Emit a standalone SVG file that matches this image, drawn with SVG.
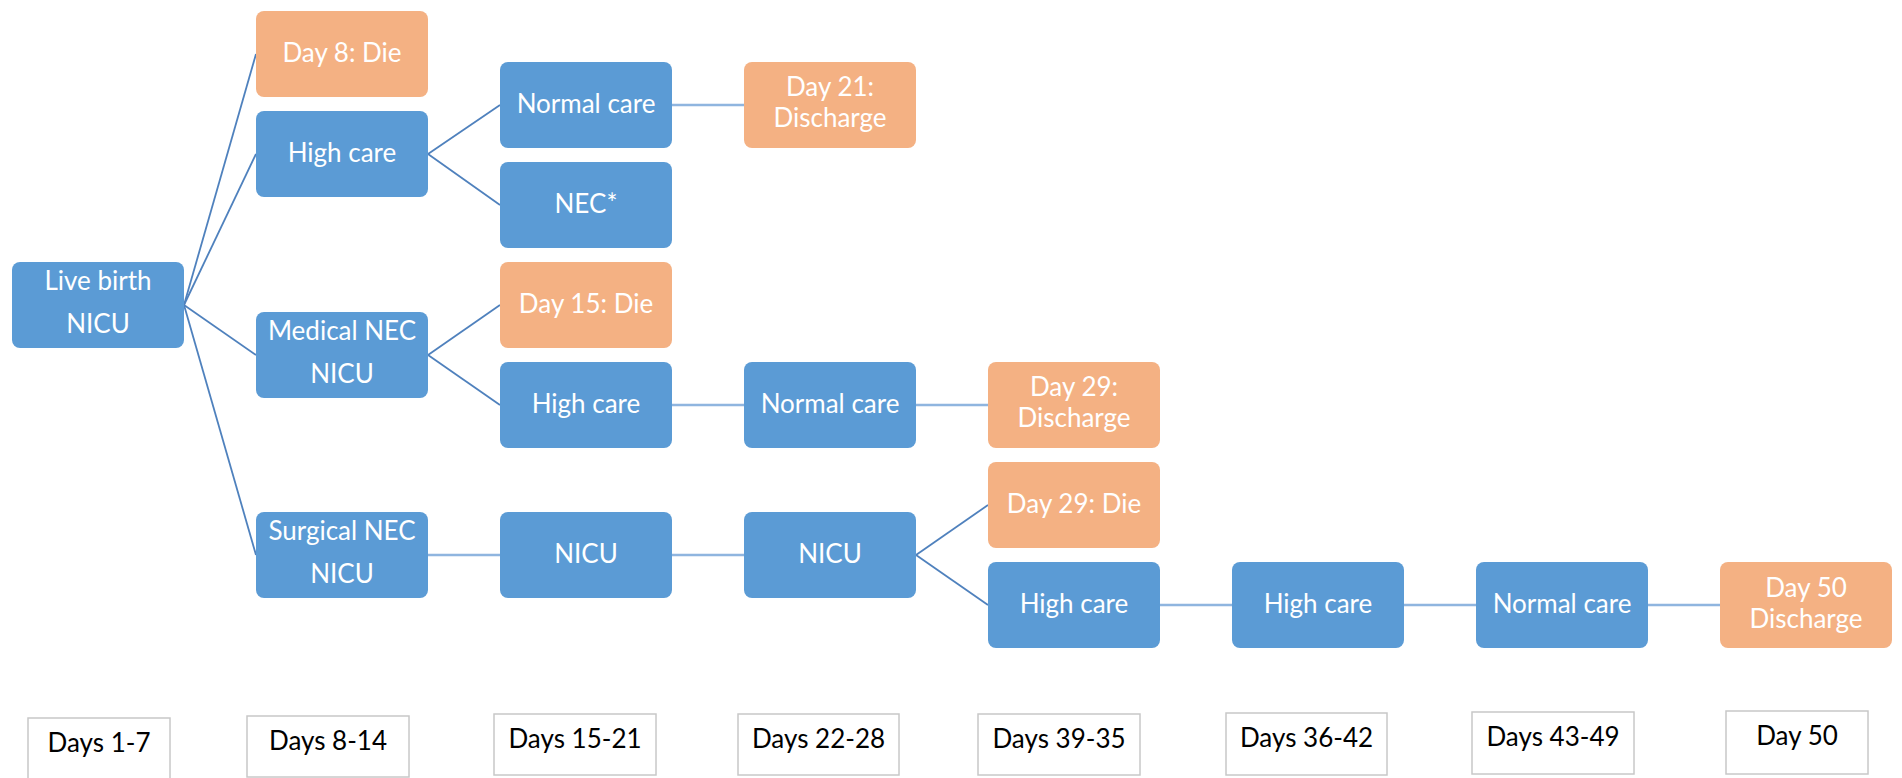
<svg xmlns="http://www.w3.org/2000/svg" width="1902" height="778" viewBox="0 0 1902 778">
<style>
  .b { fill: #5b9bd5; }
  .o { fill: #f4b183; }
  .t { font-family: Lato, "Open Sans", sans-serif; font-size: 26px; fill: #ffffff; text-anchor: middle; }
  .f { font-family: Lato, "Open Sans", sans-serif; font-size: 26px; fill: #000000; text-anchor: middle; }
  .fb { fill: #ffffff; stroke: #c8c8c8; stroke-width: 1.5; }
  .d { stroke: #4f81bd; stroke-width: 1.8; fill: none; }
  .h { stroke: #8fb5df; stroke-width: 2.6; fill: none; }
</style>
<rect width="1902" height="778" fill="#ffffff"/>
<g id="connectors">
  <line class="d" x1="184" y1="305" x2="256" y2="54"/>
  <line class="d" x1="184" y1="305" x2="256" y2="154"/>
  <line class="d" x1="184" y1="305" x2="256" y2="355"/>
  <line class="d" x1="184" y1="305" x2="256" y2="555"/>
  <line class="d" x1="428" y1="154" x2="500" y2="105"/>
  <line class="d" x1="428" y1="154" x2="500" y2="205"/>
  <line class="h" x1="672" y1="105" x2="744" y2="105"/>
  <line class="d" x1="428" y1="355" x2="500" y2="305"/>
  <line class="d" x1="428" y1="355" x2="500" y2="405"/>
  <line class="h" x1="672" y1="405" x2="744" y2="405"/>
  <line class="h" x1="916" y1="405" x2="988" y2="405"/>
  <line class="h" x1="428" y1="555" x2="500" y2="555"/>
  <line class="h" x1="672" y1="555" x2="744" y2="555"/>
  <line class="d" x1="916" y1="555" x2="988" y2="505"/>
  <line class="d" x1="916" y1="555" x2="988" y2="605"/>
  <line class="h" x1="1160" y1="605" x2="1232" y2="605"/>
  <line class="h" x1="1404" y1="605" x2="1476" y2="605"/>
  <line class="h" x1="1648" y1="605" x2="1720" y2="605"/>
</g>
<g id="live-birth"><rect class="b" x="12" y="262" width="172" height="86" rx="8"/><text class="t" x="98" y="290">Live birth</text><text class="t" x="98" y="333">NICU</text></g>
<g id="day8-die"><rect class="o" x="256" y="11" width="172" height="86" rx="8"/><text class="t" x="342" y="62">Day 8: Die</text></g>
<g id="high-care-1"><rect class="b" x="256" y="111" width="172" height="86" rx="8"/><text class="t" x="342" y="162">High care</text></g>
<g id="medical-nec"><rect class="b" x="256" y="312" width="172" height="86" rx="8"/><text class="t" x="342" y="340">Medical NEC</text><text class="t" x="342" y="383">NICU</text></g>
<g id="surgical-nec"><rect class="b" x="256" y="512" width="172" height="86" rx="8"/><text class="t" x="342" y="540">Surgical NEC</text><text class="t" x="342" y="583">NICU</text></g>
<g id="normal-care-1"><rect class="b" x="500" y="62" width="172" height="86" rx="8"/><text class="t" x="586" y="113">Normal care</text></g>
<g id="nec-star"><rect class="b" x="500" y="162" width="172" height="86" rx="8"/><text class="t" x="586" y="213">NEC*</text></g>
<g id="day15-die"><rect class="o" x="500" y="262" width="172" height="86" rx="8"/><text class="t" x="586" y="313">Day 15: Die</text></g>
<g id="high-care-2"><rect class="b" x="500" y="362" width="172" height="86" rx="8"/><text class="t" x="586" y="413">High care</text></g>
<g id="nicu-1"><rect class="b" x="500" y="512" width="172" height="86" rx="8"/><text class="t" x="586" y="563">NICU</text></g>
<g id="day21-discharge"><rect class="o" x="744" y="62" width="172" height="86" rx="8"/><text class="t" x="830" y="96">Day 21:</text><text class="t" x="830" y="127">Discharge</text></g>
<g id="normal-care-2"><rect class="b" x="744" y="362" width="172" height="86" rx="8"/><text class="t" x="830" y="413">Normal care</text></g>
<g id="nicu-2"><rect class="b" x="744" y="512" width="172" height="86" rx="8"/><text class="t" x="830" y="563">NICU</text></g>
<g id="day29-discharge"><rect class="o" x="988" y="362" width="172" height="86" rx="8"/><text class="t" x="1074" y="396">Day 29:</text><text class="t" x="1074" y="427">Discharge</text></g>
<g id="day29-die"><rect class="o" x="988" y="462" width="172" height="86" rx="8"/><text class="t" x="1074" y="513">Day 29: Die</text></g>
<g id="high-care-3"><rect class="b" x="988" y="562" width="172" height="86" rx="8"/><text class="t" x="1074" y="613">High care</text></g>
<g id="high-care-4"><rect class="b" x="1232" y="562" width="172" height="86" rx="8"/><text class="t" x="1318" y="613">High care</text></g>
<g id="normal-care-3"><rect class="b" x="1476" y="562" width="172" height="86" rx="8"/><text class="t" x="1562" y="613">Normal care</text></g>
<g id="day50-discharge"><rect class="o" x="1720" y="562" width="172" height="86" rx="8"/><text class="t" x="1806" y="597">Day 50</text><text class="t" x="1806" y="628">Discharge</text></g>
<g id="footer-1"><rect class="fb" x="28" y="718" width="142" height="64"/><text class="f" x="99" y="752">Days 1-7</text></g>
<g id="footer-2"><rect class="fb" x="247" y="716" width="162" height="61"/><text class="f" x="328" y="750">Days 8-14</text></g>
<g id="footer-3"><rect class="fb" x="494" y="714" width="162" height="61"/><text class="f" x="575" y="748">Days 15-21</text></g>
<g id="footer-4"><rect class="fb" x="738" y="714" width="161" height="61"/><text class="f" x="818.5" y="748">Days 22-28</text></g>
<g id="footer-5"><rect class="fb" x="978" y="714" width="162" height="61"/><text class="f" x="1059" y="748">Days 39-35</text></g>
<g id="footer-6"><rect class="fb" x="1226" y="713" width="161" height="62"/><text class="f" x="1306.5" y="747">Days 36-42</text></g>
<g id="footer-7"><rect class="fb" x="1472" y="712" width="162" height="62"/><text class="f" x="1553" y="746">Days 43-49</text></g>
<g id="footer-8"><rect class="fb" x="1726" y="711" width="142" height="63"/><text class="f" x="1797" y="745">Day 50</text></g>
</svg>
